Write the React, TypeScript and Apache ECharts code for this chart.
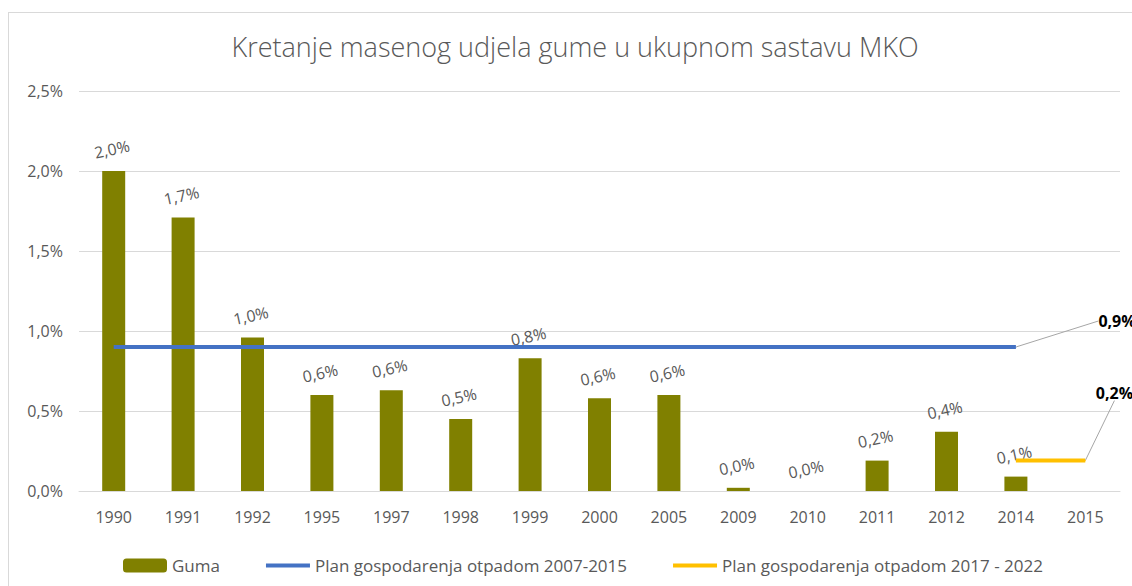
import React, { useEffect, useRef } from "react";
import * as echarts from "echarts";

const categories = ["1990", "1991", "1992", "1995", "1997", "1998", "1999", "2000", "2005", "2009", "2010", "2011", "2012", "2014", "2015"];
const gumaValues: (number | null)[] = [2.0, 1.71, 0.96, 0.6, 0.63, 0.45, 0.83, 0.58, 0.6, 0.02, 0, 0.19, 0.37, 0.09, null];
const plan2007Values: (number | null)[] = [0.9, 0.9, 0.9, 0.9, 0.9, 0.9, 0.9, 0.9, 0.9, 0.9, 0.9, 0.9, 0.9, 0.9, null];
const plan2017Values: (number | null)[] = [null, null, null, null, null, null, null, null, null, null, null, null, null, 0.19, 0.19];
const seriesNames = ["Guma", "Plan gospodarenja otpadom 2007-2015", "Plan gospodarenja otpadom 2017 - 2022"];
const titleText = "Kretanje masenog udjela gume u ukupnom sastavu MKO";

const FONT = "'Open Sans', sans-serif";
const fmt = (v: number) => v.toFixed(1).replace(".", ",") + "%";

export default function App() {
  const ref = useRef<HTMLDivElement>(null);
  useEffect(() => {
    if (!ref.current) return;
    const chart = echarts.init(ref.current, undefined, { renderer: "svg" });
    const lineData = (vals: (number | null)[], labelIdx: number) =>
      vals.map((v, i) =>
        i === labelIdx
          ? { value: v, symbol: "circle", symbolSize: 1, label: { show: true } }
          : v
      );
    chart.setOption({
      animation: false,
      textStyle: { fontFamily: FONT },
      title: {
        text: titleText,
        left: "center",
        top: 15,
        textStyle: { fontFamily: FONT, fontSize: 27, fontWeight: 300, color: "#595959" },
      },
      legend: {
        top: 539,
        left: 109,
        itemWidth: 44,
        itemHeight: 14,
        itemGap: 44,
        textStyle: { fontFamily: FONT, fontSize: 17, color: "#595959" },
        data: [
          { name: seriesNames[0] },
          { name: seriesNames[1], itemStyle: { opacity: 0 }, lineStyle: { width: 4, color: "#4472C4" } },
          { name: seriesNames[2], itemStyle: { opacity: 0 }, lineStyle: { width: 4, color: "#FFC000" } },
        ],
      },
      grid: { left: 70, right: 21, top: 78, bottom: 122 },
      xAxis: {
        type: "category",
        data: categories,
        axisLine: { lineStyle: { color: "#d9d9d9" } },
        axisTick: { show: false },
        axisLabel: { color: "#595959", fontSize: 16, fontFamily: FONT, margin: 18 },
      },
      yAxis: {
        type: "value",
        min: 0,
        max: 2.5,
        interval: 0.5,
        axisLine: { show: false },
        axisTick: { show: false },
        splitLine: { lineStyle: { color: "#d9d9d9" } },
        axisLabel: { color: "#595959", fontSize: 16, fontFamily: FONT, margin: 16, formatter: (v: number) => fmt(v) },
      },
      series: [
        {
          name: seriesNames[0],
          type: "bar",
          data: gumaValues,
          barWidth: 23,
          itemStyle: { color: "#808000" },
          label: {
            show: true,
            position: "top",
            distance: 14,
            rotate: 12,
            color: "#595959",
            fontSize: 16,
            fontFamily: FONT,
            formatter: (p: any) => fmt(p.value),
          },
        },
        {
          name: seriesNames[1],
          type: "line",
          data: lineData(plan2007Values, 13),
          symbol: "none",
          lineStyle: { color: "#4472C4", width: 4 },
          itemStyle: { color: "#4472C4" },
          label: {
            show: false,
            position: "right",
            distance: 5,
            color: "#000",
            fontWeight: "bold",
            fontSize: 16,
            fontFamily: FONT,
            formatter: (p: any) => fmt(p.value),
          },
          labelLine: { show: true, lineStyle: { color: "#a6a6a6", width: 1 } },
          labelLayout: () => ({ dx: 77, dy: -26 }),
        },
        {
          name: seriesNames[2],
          type: "line",
          data: lineData(plan2017Values, 14),
          symbol: "none",
          lineStyle: { color: "#FFC000", width: 4 },
          itemStyle: { color: "#FFC000" },
          label: {
            show: false,
            position: "right",
            distance: 5,
            color: "#000",
            fontWeight: "bold",
            fontSize: 16,
            fontFamily: FONT,
            formatter: (p: any) => fmt(p.value),
          },
          labelLine: { show: true, lineStyle: { color: "#a6a6a6", width: 1 } },
          labelLayout: () => ({ dx: 5, dy: -68 }),
        },
      ],
    });
    return () => chart.dispose();
  }, []);
  return (
    <div style={{ position: "fixed", left: 0, top: 0, width: 1132, height: 586, overflow: "hidden", background: "#fff" }}>
      <div
        style={{
          position: "absolute",
          left: 8,
          top: 12,
          width: 1132,
          height: 600,
          border: "1px solid #d9d9d9",
        }}
      >
        <div ref={ref} style={{ width: 1132, height: 600 }} />
      </div>
    </div>
  );
}
